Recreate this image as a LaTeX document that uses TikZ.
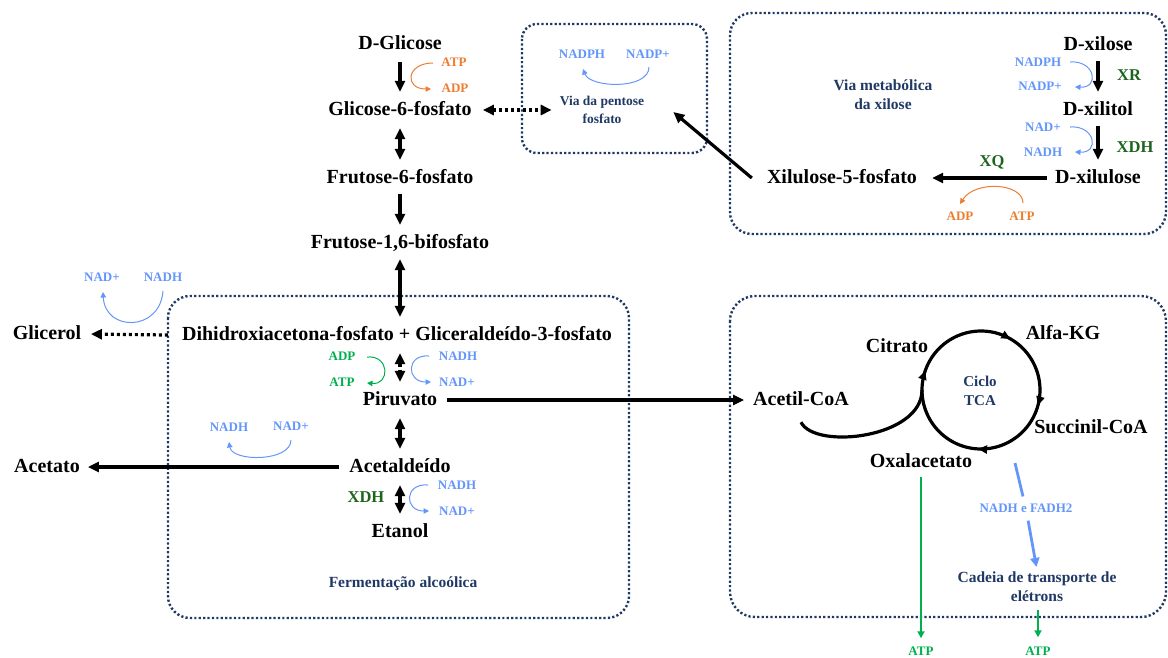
\documentclass[tikz,border=0pt]{standalone}
\usepackage{fontspec}
\setmainfont{Liberation Serif}
\usetikzlibrary{arrows.meta,calc,decorations.markings}
\definecolor{cBl}{RGB}{100,150,250}
\definecolor{cOr}{RGB}{237,125,49}
\definecolor{cGr}{RGB}{0,176,80}
\definecolor{cDg}{RGB}{30,100,30}
\definecolor{cNv}{RGB}{31,56,100}
\begin{document}
\begin{tikzpicture}[x=1pt,y=-1pt,
  >={Triangle[length=11pt,width=10pt]},
  met/.style={font=\fontsize{20}{22}\selectfont\bfseries, inner sep=4pt, text height=14pt, text depth=4pt},
  cof/.style={font=\fontsize{13}{15}\selectfont\bfseries, inner sep=2pt, text height=9pt, text depth=2pt},
  enz/.style={font=\fontsize{16.5}{18}\selectfont\bfseries, text=cDg, inner sep=2pt},
  lbl/.style={font=\fontsize{15.5}{19}\selectfont\bfseries, text=cNv, align=center, inner sep=2pt},
  flow/.style={line width=3.2pt, draw=black},
  dotflow/.style={line width=3.2pt, draw=black, dash pattern=on 3pt off 3pt},
  cyc/.style={line width=1pt, -{Triangle[length=5.5pt,width=5.5pt]}},
  groupbox/.style={draw=cNv, line width=2.4pt, dash pattern=on 2.2pt off 2.2pt},
]
\useasboundingbox (0,0) rectangle (1168,657);

% pathway groups
\draw[groupbox, rounded corners=22pt] (168,296) rectangle (629,618);
\draw[groupbox, rounded corners=15pt] (522,24) rectangle (707,153);
\draw[groupbox, rounded corners=22pt] (730,13) rectangle (1166,234);
\draw[groupbox, rounded corners=25pt] (730,296) rectangle (1166,617);

% glycolysis and fermentation
\node[met] (glc) at (400,44) {D-Glicose};
\node[met] (g6p) at (400,110) {Glicose-6-fosfato};
\node[met] (f6p) at (400,178) {Frutose-6-fosfato};
\node[met] (f16) at (400,243) {Frutose-1,6-bifosfato};
\node[met] (tri) at (397,335) {Dihidroxiacetona-fosfato + Gliceraldeído-3-fosfato};
\node[met] (pyr) at (400,400) {Piruvato};
\node[met] (acd) at (400,467) {Acetaldeído};
\node[met] (eth) at (400,532) {Etanol};
\node[met] (gly) at (47,334) {Glicerol};
\node[met] (ace) at (47,467) {Acetato};

\draw[flow,->,shorten <=5pt,shorten >=5pt] (glc.south) -- (g6p.north);
\draw[flow,<->,shorten <=5pt,shorten >=5pt] (g6p.south) -- (f6p.north);
\draw[flow,->,shorten <=3pt,shorten >=5pt] (f6p.south) -- (f16.north);
\draw[flow,<->,shorten <=3pt,shorten >=5pt] (f16.south) -- (f16.south |- tri.north);
\draw[dotflow,<->,shorten <=5pt,shorten >=5pt] (pyr.north |- tri.south) -- (pyr.north);
\draw[flow,<->,shorten <=5pt,shorten >=5pt] (pyr.south) -- (acd.north);
\draw[flow,<->,shorten <=5pt,shorten >=5pt] (acd.south) -- (eth.north);
\draw[flow,->,shorten <=6.5pt,shorten >=4pt] (acd.west) -- (ace.east);
\draw[dotflow,->,shorten >=5.5pt] ([xshift=-10pt]tri.west) -- (gly.east);

\node[cof,text=cOr] (atp0) at (454,63) {ATP};
\node[cof,text=cOr] (adp0) at (455,89) {ADP};
\draw[cyc,cOr] ($(atp0)+(-21,0)$) .. controls +(-27,0) and +(-27,0) .. ($(adp0)+(-24,0)$);

\node[cof,text=cBl] (nad5) at (102,278) {NAD+};
\node[cof,text=cBl] (nadh5) at (163,278) {NADH};
\draw[cyc,cBl] ($(nadh5)+(0,13)$) .. controls +(-3,41) and +(2,40) .. ($(nad5)+(1,14)$);

\node[cof,text=cGr] (adpG) at (342,357) {ADP};
\node[cof,text=cGr] (atpG) at (342,383) {ATP};
\draw[cyc,cGr] ($(adpG)+(25,0)$) .. controls +(23,-2) and +(23,2) .. ($(atpG)+(25,0)$);

\node[cof,text=cBl] (nadh6) at (458,357) {NADH};
\node[cof,text=cBl] (nad6) at (457,383) {NAD+};
\draw[cyc,cBl] ($(nadh6)+(-29,-1)$) .. controls +(-23,-2) and +(-25,0) .. ($(nad6)+(-26,-1)$);

\node[cof,text=cBl] (nadh7) at (229,428) {NADH};
\node[cof,text=cBl] (nad7) at (291,427) {NAD+};
\draw[cyc,cBl] ($(nad7)+(0,13)$) .. controls +(0,22) and +(3,20) .. ($(nadh7)+(0,14)$);

\node[enz] (xdh2) at (366,497) {XDH};
\node[cof,text=cBl] (nadh8) at (457,486) {NADH};
\node[cof,text=cBl] (nad8) at (457,512) {NAD+};
\draw[cyc,cBl] ($(nadh8)+(-29,-1)$) .. controls +(-24,-2) and +(-25,0) .. ($(nad8)+(-28,-1)$);

\node[lbl] (ferm) at (403,584) {Fermentação alcoólica};

% pentose phosphate pathway
\node[lbl,font=\fontsize{13.5}{18}\selectfont\bfseries] (pent) at (602,110) {Via da pentose\\fosfato};
\node[cof,text=cBl] (nph1) at (582,55) {NADPH};
\node[cof,text=cBl] (npp1) at (648,55) {NADP+};
\draw[cyc,cBl] ($(npp1)+(1,12)$) .. controls +(0,23) and +(7,19) .. ($(nph1)+(1,14)$);
\draw[dotflow,<->,shorten <=7pt] (g6p.east) -- ([xshift=-6pt]pent.west);

% xylose pathway
\node[lbl] (vxl) at (883,95) {Via metabólica\\da xilose};
\node[met] (xyl) at (1098,45) {D-xilose};
\node[met] (xol) at (1098,110) {D-xilitol};
\node[met] (xlu) at (1098,178) {D-xilulose};
\node[met] (x5p) at (842,178) {Xilulose-5-fosfato};
\draw[flow,->,shorten <=3pt,shorten >=5pt] (xyl.south) -- (xol.north);
\draw[flow,->,shorten <=3pt,shorten >=5pt] (xol.south) -- (xlu.north);
\draw[flow,->,shorten <=4pt] (xlu.west) -- ([xshift=11pt]x5p.east);
\draw[flow,->] ([xshift=-11pt]x5p.west) -- ([xshift=27pt,yshift=-2pt]pent.east);
\node[enz] (xr) at (1129,75) {XR};
\node[enz] (xdh1) at (1135,147) {XDH};
\node[enz] (xq) at (992,162) {XQ};

\node[cof,text=cBl] (nph2) at (1038,63) {NADPH};
\node[cof,text=cBl] (npp2) at (1040,87) {NADP+};
\draw[cyc,cBl] ($(nph2)+(32,-1)$) .. controls +(25,-2) and +(25,1) .. ($(npp2)+(35,0)$);
\node[cof,text=cBl] (nad3) at (1043,128) {NAD+};
\node[cof,text=cBl] (nadh3) at (1043,153) {NADH};
\draw[cyc,cBl] ($(nad3)+(27,-1)$) .. controls +(25,-2) and +(25,1) .. ($(nadh3)+(32,-1)$);
\node[cof,text=cOr] (adp4) at (960,217) {ADP};
\node[cof,text=cOr] (atp4) at (1022,217) {ATP};
\draw[cyc,cOr] ($(atp4)+(1,-14)$) .. controls +(0,-20) and +(15,-24) .. ($(adp4)+(0,-13)$);

% citric acid cycle
\coordinate (cc) at (981,390);
\node[met] (acc) at (801,400) {Acetil-CoA};
\node[met] (cit) at (897,347) {Citrato};
\node[met] (akg) at (1063,334) {Alfa-KG};
\node[met] (suc) at (1091,428) {Succinil-CoA};
\node[met] (oxa) at (921,462) {Oxalacetato};
\node[lbl,font=\fontsize{15}{19}\selectfont\bfseries] (tcal) at (980,391) {Ciclo\\TCA};
\draw[flow,->,shorten <=6pt,shorten >=5pt] (pyr.east) -- (acc.west);

\draw[line width=3.2pt, postaction={decorate}, decoration={markings,
    mark=at position 0.042 with {\arrow{Triangle[length=9pt,width=8pt]}},
    mark=at position 0.258 with {\arrow{Triangle[length=9pt,width=8pt]}},
    mark=at position 0.553 with {\arrow{Triangle[length=9pt,width=8pt]}},
    mark=at position 0.833 with {\arrow{Triangle[length=9pt,width=8pt]}}}]
  plot[domain=0:360, samples=145] ({981+59*cos(\x)},{390+59*sin(\x)}) -- cycle;
\draw[line width=3.2pt] ([yshift=-9pt]acc.south) .. controls +(14,28) and +(0,48) .. ($(cc)+(-59,0)$);

\node[lbl] (cad) at (1037,587) {Cadeia de transporte de\\elétrons};
\coordinate (nfs) at (1015,463);
\node[cof,text=cBl] (nf) at (1026,509) {NADH e FADH2};
\draw[line width=2.8pt,cBl,shorten >=5pt] (nfs) -- (nf);
\draw[line width=2.8pt,cBl,-{Triangle[length=9pt,width=9pt]},shorten <=4pt,shorten >=3pt] (nf) -- (cad.north);

\node[cof,text=cGr] (atp1) at (921,652) {ATP};
\node[cof,text=cGr] (atp2) at (1038,652) {ATP};
\draw[line width=1.9pt,cGr,-{Triangle[length=7pt,width=7pt]},shorten <=2pt,shorten >=6pt] (oxa.south) -- (atp1.north);
\draw[line width=1.9pt,cGr,-{Triangle[length=7pt,width=7pt]},shorten <=6pt,shorten >=7pt] (cad.south -| atp2.north) -- (atp2.north);
\end{tikzpicture}
\end{document}
